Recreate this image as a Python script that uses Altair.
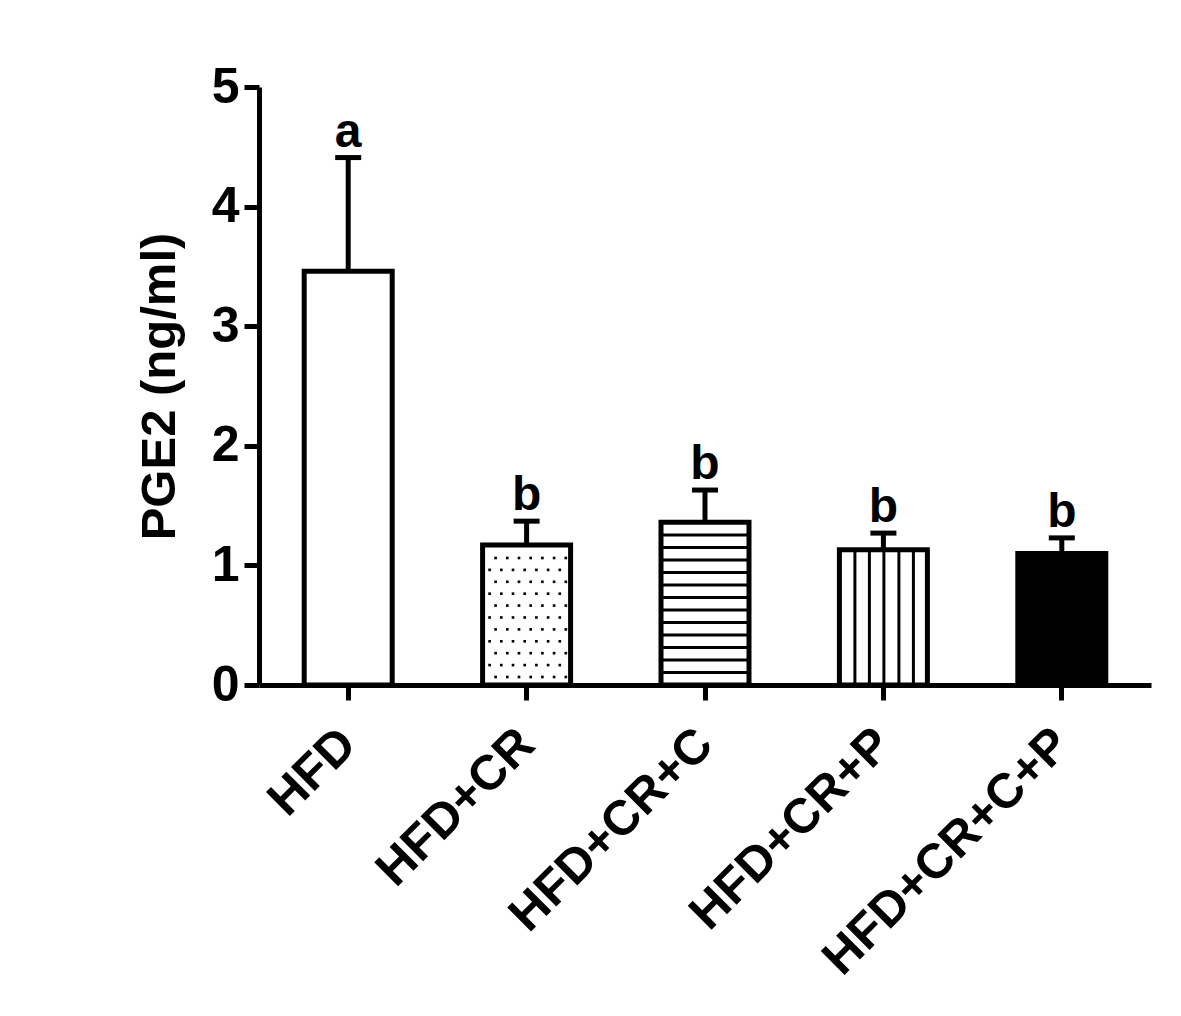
import altair as alt
import numpy as np
import pandas as pd

# ---- data ----
groups = ["HFD", "HFD+CR", "HFD+CR+C", "HFD+CR+P", "HFD+CR+C+P"]
means = [3.46, 1.17, 1.36, 1.13, 1.10]
sems = [0.95, 0.20, 0.27, 0.14, 0.13]
letters = ["a", "b", "b", "b", "b"]
patterns = ["none", "dots", "hlines", "vlines", "solid"]
y_ticks = [0, 1, 2, 3, 4, 5]

FONT = "Liberation Sans"

df = pd.DataFrame({
    "group": groups,
    "value": means,
    "upper": [m + s for m, s in zip(means, sems)],
    "letter": letters,
    "pattern": patterns,
})
df["fillc"] = np.where(df["pattern"] == "solid", "black", "white")
df["zero"] = 0.0

# ---- pattern helper tables (decoration derived from the bar values) ----
hl_rows = []
for g, v, p in zip(groups, means, patterns):
    if p == "hlines":
        step = 0.1045
        for yy in np.arange(step, v - step / 2, step):
            hl_rows.append({"group": g, "y": float(yy)})
hl = pd.DataFrame(hl_rows)

dot_rows = []
even_offsets = [-31 + 11.7 * j for j in range(7)]
odd_offsets = [-37 + 11.7 * j for j in range(7)]
for g, v, p in zip(groups, means, patterns):
    if p == "dots":
        k = 0
        yy = 0.067
        while yy < v - 0.04:
            offs = even_offsets if k % 2 == 0 else odd_offsets
            for o in offs:
                dot_rows.append({"group": g, "y": yy, "off": round(o, 1)})
            k += 1
            yy += 0.0995
dots = pd.DataFrame(dot_rows)

vline_offsets = [-28.5, -14, 0.5, 15.5, 30]

# ---- encodings ----
def X():
    return alt.X(
        "group:N",
        sort=groups,
        scale=alt.Scale(domain=groups, paddingInner=0.5, paddingOuter=0.25),
        axis=alt.Axis(
            title=None,
            labelAngle=-45,
            labelAlign="right",
            labelBaseline="middle",
            labelPadding=36,
            labelLimit=0,
            labelFont=FONT,
            labelFontSize=49,
            labelFontWeight="bold",
            labelColor="black",
            tickSize=15,
            tickWidth=5,
            tickColor="black",
            domainWidth=5,
            domainColor="black",
            grid=False,
        ),
    )


def Y(field):
    return alt.Y(
        f"{field}:Q",
        scale=alt.Scale(domain=[0, 5], nice=False),
        axis=alt.Axis(
            title="PGE2 (ng/ml)",
            values=y_ticks,
            format="d",
            labelFont=FONT,
            labelFontSize=50,
            labelFontWeight="bold",
            labelColor="black",
            labelPadding=5,
            tickSize=15,
            tickWidth=5,
            tickColor="black",
            domainWidth=5,
            domainColor="black",
            grid=False,
            titleFont=FONT,
            titleFontSize=49,
            titleFontWeight="bold",
            titleColor="black",
            titleAngle=270,
            titleX=-85,
            titleY=299,
            titleAlign="center",
            titleBaseline="alphabetic",
        ),
    )


base = alt.Chart(df)

bars = base.mark_bar(size=88, stroke="black", strokeWidth=5).encode(
    x=X(), y=Y("value"), y2="zero:Q", fill=alt.Fill("fillc:N", scale=None)
)

layers = [bars]

# dots
for o in sorted(dots["off"].unique()):
    layers.append(
        alt.Chart(dots)
        .transform_filter(f"datum.off == {o}")
        .mark_square(size=7, color="black", opacity=1, xOffset=float(o))
        .encode(x=X(), y=Y("y"))
    )

# horizontal lines
layers.append(
    alt.Chart(hl)
    .mark_tick(orient="horizontal", size=86, thickness=3, color="black", opacity=1)
    .encode(x=X(), y=Y("y"))
)

# vertical lines
for o in vline_offsets:
    layers.append(
        base.transform_filter("datum.pattern == 'vlines'")
        .mark_rule(strokeWidth=3, color="black", xOffset=o)
        .encode(x=X(), y=Y("zero"), y2="value:Q")
    )

# error bars
layers.append(
    base.mark_rule(strokeWidth=5, color="black").encode(
        x=X(), y=Y("value"), y2="upper:Q"
    )
)
layers.append(
    base.mark_tick(orient="horizontal", size=26, thickness=5, color="black", opacity=1).encode(
        x=X(), y=Y("upper")
    )
)

# significance letters
layers.append(
    base.mark_text(
        font=FONT, fontSize=48, fontWeight="bold", color="black",
        baseline="alphabetic", align="center", dy=-11,
    ).encode(x=X(), y=Y("upper"), text="letter:N")
)

chart = (
    alt.layer(*layers)
    .properties(
        width=892,
        height=598,
        padding={"left": 251, "top": 79, "right": 22, "bottom": 330},
        autosize=alt.AutoSizeParams(type="none"),
        background="white",
    )
    .configure_view(stroke=None)
)

chart.save("out.html", embed_options={"renderer": "svg", "actions": False})
